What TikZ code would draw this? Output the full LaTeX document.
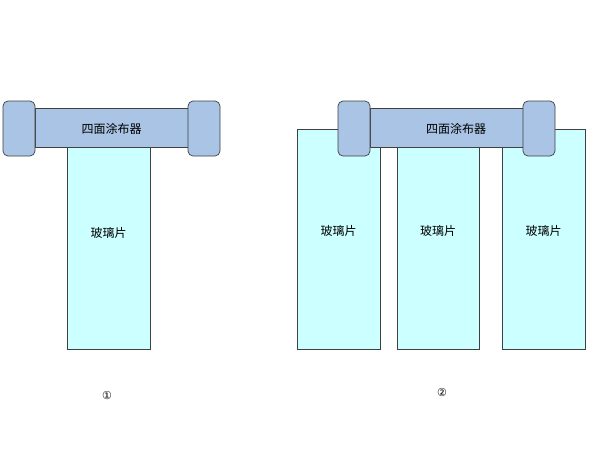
\documentclass[tikz,border=0pt]{standalone}
\usepackage{fontspec}
\newfontfamily\cjk{Noto Sans CJK SC}
\newfontfamily\dv{DejaVu Sans}
\definecolor{barc}{HTML}{A9C4E4}
\definecolor{glassc}{HTML}{CCFFFF}
\definecolor{edge}{HTML}{404040}
\tikzset{
 glass/.style={draw=edge,fill=glassc,line width=0.7pt},
 bar/.style={draw=edge,fill=barc,line width=0.7pt},
 endcap/.style={draw=edge,fill=barc,line width=0.7pt,rounded corners=5pt},
 lbl/.style={font=\cjk\fontsize{12}{14}\selectfont}
}
\begin{document}
\begin{tikzpicture}[x=1pt,y=-1pt]
\useasboundingbox[fill=white] (0,0) rectangle (616,474);
% left
\draw[glass] (67,147) rectangle (150,349);
\node[lbl] (g1) at (108.5,233) {玻璃片};
\draw[bar] (35,108) rectangle (188,147);
\node[lbl] (b1) at (111.5,129) {四面涂布器};
\draw[endcap] (3,101) rectangle (35,156);
\draw[endcap] (188,101) rectangle (220,156);
\node[font=\dv\fontsize{11}{13}\selectfont] (n1) at (107,395) {①};
% right
\draw[glass] (297,129) rectangle (380,349);
\draw[glass] (397,129) rectangle (479,349);
\draw[glass] (502,129) rectangle (585,349);
\node[lbl] (g2) at (338.5,231) {玻璃片};
\node[lbl] (g3) at (438,231) {玻璃片};
\node[lbl] (g4) at (543.5,231) {玻璃片};
\draw[bar] (370,108) rectangle (523,147);
\node[lbl] (b2) at (456,129) {四面涂布器};
\draw[endcap] (338,101) rectangle (370,156);
\draw[endcap] (523,101) rectangle (555,156);
\node[font=\dv\fontsize{11}{13}\selectfont] (n2) at (442,392) {②};
\end{tikzpicture}
\end{document}
